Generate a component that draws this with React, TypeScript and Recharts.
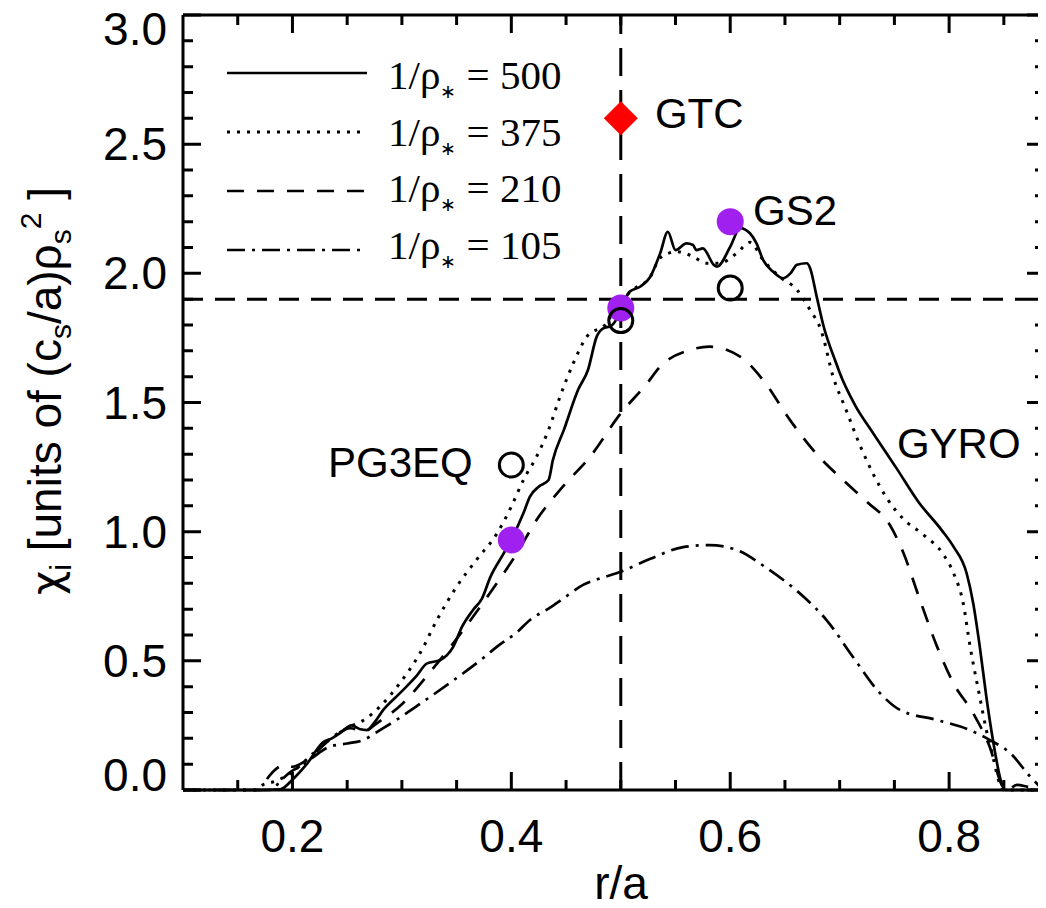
import {
  ComposedChart,
  Line,
  Scatter,
  XAxis,
  YAxis,
  ReferenceLine,
  ReferenceDot,
  Legend,
} from "recharts";

const SANS = "'Liberation Sans', Arial, Helvetica, sans-serif";
const SERIF = "'Liberation Serif', 'Times New Roman', serif";

const XMIN = 0.1;
const XMAX = 0.8876;
const YMAX = 3;

// chi_i profiles, [r/a, chi]
const rho500: [number, number][] = [
  [0.1, 0], [0.17, 0], [0.189, 0.003], [0.2, 0.04], [0.213, 0.1], [0.228, 0.185], [0.236, 0.2],
  [0.245, 0.225], [0.254, 0.25], [0.262, 0.235], [0.268, 0.232], [0.275, 0.262], [0.283, 0.31],
  [0.298, 0.374], [0.313, 0.44], [0.323, 0.49], [0.335, 0.503], [0.347, 0.555], [0.355, 0.632],
  [0.365, 0.697], [0.373, 0.74], [0.381, 0.826], [0.393, 0.916], [0.4, 0.97], [0.411, 1.071],
  [0.417, 1.136], [0.425, 1.174], [0.434, 1.2], [0.438, 1.278], [0.448, 1.394], [0.461, 1.549],
  [0.47, 1.626], [0.478, 1.755], [0.484, 1.787], [0.491, 1.796], [0.497, 1.83], [0.501, 1.871],
  [0.508, 1.929], [0.518, 1.949], [0.527, 1.987], [0.536, 2.078], [0.543, 2.161], [0.55, 2.09],
  [0.56, 2.116], [0.566, 2.11], [0.569, 2.09], [0.575, 2.097], [0.585, 2.033], [0.588, 2.026],
  [0.6, 2.103], [0.609, 2.175], [0.618, 2.155], [0.624, 2.116], [0.63, 2.052], [0.639, 2.007],
  [0.648, 1.981], [0.655, 2.0], [0.661, 2.033], [0.67, 2.039], [0.673, 2.02], [0.679, 1.91],
  [0.685, 1.8], [0.697, 1.65], [0.7, 1.615], [0.714, 1.49], [0.73, 1.385], [0.752, 1.245],
  [0.772, 1.115], [0.793, 1.007], [0.804, 0.942], [0.816, 0.839], [0.822, 0.723], [0.828, 0.555],
  [0.834, 0.361], [0.84, 0.194], [0.849, 0.013], [0.851, 0], [0.887, 0],
];

const rho375: [number, number][] = [
  [0.1, 0], [0.165, 0], [0.173, 0.02], [0.185, 0.035], [0.2, 0.07], [0.219, 0.142], [0.24, 0.215],
  [0.255, 0.25], [0.265, 0.27], [0.28, 0.323], [0.298, 0.413], [0.3165, 0.529], [0.332, 0.658],
  [0.35, 0.787], [0.368, 0.89], [0.387, 0.994], [0.4, 1.097], [0.411, 1.2], [0.423, 1.29],
  [0.434, 1.394], [0.4445, 1.523], [0.4566, 1.652], [0.469, 1.755], [0.487, 1.807], [0.496, 1.87],
  [0.511, 1.936], [0.527, 1.987], [0.536, 2.06], [0.551, 2.084], [0.566, 2.065], [0.578, 2.039],
  [0.59, 2.039], [0.606, 2.078], [0.618, 2.12], [0.63, 2.052], [0.645, 1.987], [0.661, 1.936],
  [0.673, 1.858], [0.683, 1.78], [0.694, 1.6], [0.706, 1.47], [0.718, 1.34], [0.731, 1.22],
  [0.743, 1.13], [0.758, 1.05], [0.776, 0.99], [0.795, 0.91], [0.804, 0.84], [0.813, 0.72],
  [0.819, 0.56], [0.828, 0.36], [0.834, 0.232], [0.84, 0.129], [0.846, 0.027], [0.85, 0], [0.887, 0],
];

const rho210: [number, number][] = [
  [0.1, 0], [0.17, 0], [0.178, 0.05], [0.186, 0.085], [0.193, 0.097], [0.2, 0.09], [0.213, 0.116],
  [0.234, 0.194], [0.253, 0.239], [0.265, 0.226], [0.277, 0.258], [0.301, 0.336], [0.326, 0.458],
  [0.35, 0.585], [0.38, 0.76], [0.405, 0.916], [0.423, 1.045], [0.447, 1.174], [0.472, 1.29],
  [0.5, 1.458], [0.524, 1.574], [0.536, 1.639], [0.563, 1.703], [0.581, 1.716], [0.609, 1.678],
  [0.63, 1.587], [0.655, 1.43], [0.679, 1.3], [0.703, 1.2], [0.725, 1.115], [0.746, 1.025],
  [0.758, 0.92], [0.773, 0.74], [0.789, 0.555], [0.804, 0.413], [0.822, 0.297], [0.837, 0.168],
  [0.849, 0.013], [0.853, 0], [0.862, 0.02], [0.872, 0.012], [0.887, 0],
];

const rho105: [number, number][] = [
  [0.1, 0], [0.18, 0], [0.19, 0.04], [0.2, 0.075], [0.207, 0.09], [0.234, 0.168], [0.25, 0.18],
  [0.265, 0.194], [0.28, 0.232], [0.295, 0.271], [0.313, 0.323], [0.326, 0.361], [0.344, 0.415],
  [0.356, 0.452], [0.374, 0.51], [0.387, 0.555], [0.405, 0.61], [0.417, 0.658], [0.435, 0.705],
  [0.447, 0.74], [0.466, 0.795], [0.478, 0.815], [0.5, 0.845], [0.527, 0.895], [0.557, 0.94],
  [0.581, 0.948], [0.606, 0.929], [0.633, 0.86], [0.667, 0.748], [0.688, 0.658], [0.712, 0.516],
  [0.737, 0.374], [0.755, 0.31], [0.789, 0.271], [0.819, 0.232], [0.837, 0.194], [0.856, 0.142],
  [0.874, 0.052], [0.886, 0],
];

// other codes
const gs2Points: [number, number][] = [[0.4, 0.968], [0.5, 1.866], [0.6, 2.2]];
const pg3eqPoints: [number, number][] = [[0.4, 1.258], [0.5, 1.817], [0.6, 1.943]];
const gtcPoints: [number, number][] = [[0.5, 2.6]];

const ANNOTATIONS = [
  { text: "GTC", x: 0.5312, y: 2.563 },
  { text: "GS2", x: 0.6208, y: 2.187 },
  { text: "PG3EQ", x: 0.2325, y: 1.212 },
  { text: "GYRO", x: 0.7523, y: 1.285 },
];

const SERIES_LABELS = ["500", "375", "210", "105"];
const SERIES_DASH = ["", "3 7", "17 13", "18 7 3 7"];

const X_MAJOR = [0.2, 0.4, 0.6, 0.8];
const X_TICKS = [0.15, 0.2, 0.25, 0.3, 0.35, 0.4, 0.45, 0.5, 0.55, 0.6, 0.65, 0.7, 0.75, 0.8, 0.85];
const Y_MAJOR = [0, 0.5, 1.0, 1.5, 2.0, 2.5, 3.0];
const Y_TICKS = [
  0, 0.1, 0.2, 0.3, 0.4, 0.5, 0.6, 0.7, 0.8, 0.9, 1.0, 1.1, 1.2, 1.3, 1.4, 1.5,
  1.6, 1.7, 1.8, 1.9, 2.0, 2.1, 2.2, 2.3, 2.4, 2.5, 2.6, 2.7, 2.8, 2.9, 3.0,
];

const toPts = (arr: [number, number][]) => arr.map(([x, y]) => ({ x, y }));

// plot box in chart coords
const P_LEFT = 175;
const P_RIGHT = 1037;
const P_TOP = 7;
const P_BOTTOM = 782;

const isIn = (list: number[], v: number) => list.some((m) => Math.abs(m - v) < 1e-6);

const sx = (v: number) => P_LEFT + ((v - XMIN) / (XMAX - XMIN)) * (P_RIGHT - P_LEFT);
const sy = (v: number) => P_BOTTOM - (v / YMAX) * (P_BOTTOM - P_TOP);

// one path with all inward ticks, IDL style on four sides
function tickPath() {
  let d = "";
  X_TICKS.forEach((v) => {
    const len = isIn(X_MAJOR, v) ? 18 : 10;
    const x = sx(v);
    d += `M${x},${P_BOTTOM}v${-len}M${x},${P_TOP}v${len}`;
  });
  Y_TICKS.forEach((v) => {
    const len = isIn(Y_MAJOR, v) ? 18 : 10;
    const y = sy(v);
    d += `M${P_LEFT},${y}h${len}M${P_RIGHT},${y}h${-len}`;
  });
  return d;
}

function XTick(props: any) {
  const { x, payload } = props;
  const v = payload.value;
  if (!isIn(X_MAJOR, v)) return <g />;
  return (
    <text x={x} y={P_BOTTOM + 62} textAnchor="middle" fontSize={46} fontFamily={SANS} fill="#000">
      {v.toFixed(1)}
    </text>
  );
}

function YTick(props: any) {
  const { y, payload } = props;
  const v = payload.value;
  if (!isIn(Y_MAJOR, v)) return <g />;
  let base = y + 16;
  if (v >= 2.99) base = y + 30;
  if (v <= 0.01) base = y + 1;
  return (
    <text x={P_LEFT - 16} y={base} textAnchor="end" fontSize={46} fontFamily={SANS} fill="#000">
      {v.toFixed(1)}
    </text>
  );
}

function XTitle() {
  return (
    <g>
      <path d={tickPath()} stroke="#000" strokeWidth={3} fill="none" />
      <text x={613} y={891} textAnchor="middle" fontSize={46} fontFamily={SANS} fill="#000">
        r/a
      </text>
    </g>
  );
}

function YTitle() {
  const cx = 53;
  const cy = 383;
  return (
    <text
      x={cx}
      y={cy}
      transform={`rotate(-90 ${cx} ${cy})`}
      textAnchor="middle"
      fontSize={46}
      fontFamily={SANS}
      fill="#000"
    >
      <tspan fontFamily="'DejaVu Sans', sans-serif" fontSize={42}>χ</tspan>
      <tspan dy={10} fontSize={30}>i</tspan>
      <tspan dy={-10}> [units of (c</tspan>
      <tspan dy={10} fontSize={30}>s</tspan>
      <tspan dy={-10}>/a)ρ</tspan>
      <tspan dy={10} fontSize={30}>s</tspan>
      <tspan dy={-30} fontSize={30}>2</tspan>
      <tspan dy={20}> ]</tspan>
    </text>
  );
}

function LegendBox() {
  return (
    <svg width={380} height={230} style={{ display: "block", overflow: "visible" }}>
      {SERIES_LABELS.map((lab, i) => {
        const ly = 20 + 59 * i;
        const ty = 36 + 56.7 * i;
        return (
          <g key={lab}>
            <line
              x1={4}
              x2={144}
              y1={ly}
              y2={ly}
              stroke="#000"
              strokeWidth={i === 1 ? 3 : 2.7}
              strokeDasharray={SERIES_DASH[i] || undefined}
            />
            <text x={165} y={ty} fontSize={41} fontFamily={SERIF} fill="#000">
              1/ρ<tspan dy={9} fontSize={19}>∗</tspan>
              <tspan dy={-9}> = {lab}</tspan>
            </text>
          </g>
        );
      })}
    </svg>
  );
}

export default function App() {
  const series = [rho500, rho375, rho210, rho105];
  return (
    <div style={{ width: 1038, height: 900 }}>
      <ComposedChart width={1038} height={900} margin={{ top: 7, right: 1, left: 0, bottom: 0 }}>
        <XAxis
          type="number"
          dataKey="x"
          domain={[XMIN, XMAX]}
          ticks={X_TICKS}
          interval={0}
          tick={XTick}
          tickLine={false}
          axisLine={{ stroke: "#000", strokeWidth: 3 }}
          height={118}
          label={XTitle}
        />
        <YAxis
          type="number"
          dataKey="y"
          domain={[0, YMAX]}
          ticks={Y_TICKS}
          interval={0}
          tick={YTick}
          tickLine={false}
          axisLine={{ stroke: "#000", strokeWidth: 3 }}
          width={175}
          label={YTitle}
        />
        <ReferenceLine y={YMAX} stroke="#000" strokeWidth={3} />
        <ReferenceLine x={XMAX} stroke="#000" strokeWidth={3} />
        <ReferenceLine x={0.5} stroke="#000" strokeWidth={3} strokeDasharray="28 14" />
        <ReferenceLine y={1.9} stroke="#000" strokeWidth={3} strokeDasharray="20 12" />
        {series.map((s, i) => (
          <Line
            key={SERIES_LABELS[i]}
            data={toPts(s)}
            dataKey="y"
            type="monotone"
            stroke="#000"
            strokeWidth={i === 1 ? 3 : 2.7}
            strokeDasharray={SERIES_DASH[i] || undefined}
            dot={false}
            activeDot={false}
            isAnimationActive={false}
          />
        ))}
        <Scatter
          data={toPts(gs2Points)}
          dataKey="y"
          isAnimationActive={false}
          shape={(p: any) => <circle cx={p.cx} cy={p.cy} r={13.5} fill="#A020F0" />}
        />
        <Scatter
          data={toPts(pg3eqPoints)}
          dataKey="y"
          isAnimationActive={false}
          shape={(p: any) => <circle cx={p.cx} cy={p.cy} r={12} fill="none" stroke="#000" strokeWidth={3} />}
        />
        <Scatter
          data={toPts(gtcPoints)}
          dataKey="y"
          isAnimationActive={false}
          shape={(p: any) => (
            <polygon
              points={`${p.cx},${p.cy - 17} ${p.cx + 17},${p.cy} ${p.cx},${p.cy + 17} ${p.cx - 17},${p.cy}`}
              fill="#FF0000"
            />
          )}
        />
        {ANNOTATIONS.map((a) => (
          <ReferenceDot
            key={a.text}
            x={a.x}
            y={a.y}
            r={0}
            shape={(p: any) => (
              <text x={p.cx} y={p.cy} fontSize={42} fontFamily={SANS} fill="#000">
                {a.text}
              </text>
            )}
          />
        ))}
        <Legend
          layout="vertical"
          align="center"
          verticalAlign="middle"
          wrapperStyle={{ left: 215, top: 45, width: 380, height: 230 }}
          content={() => <LegendBox />}
        />
      </ComposedChart>
    </div>
  );
}
